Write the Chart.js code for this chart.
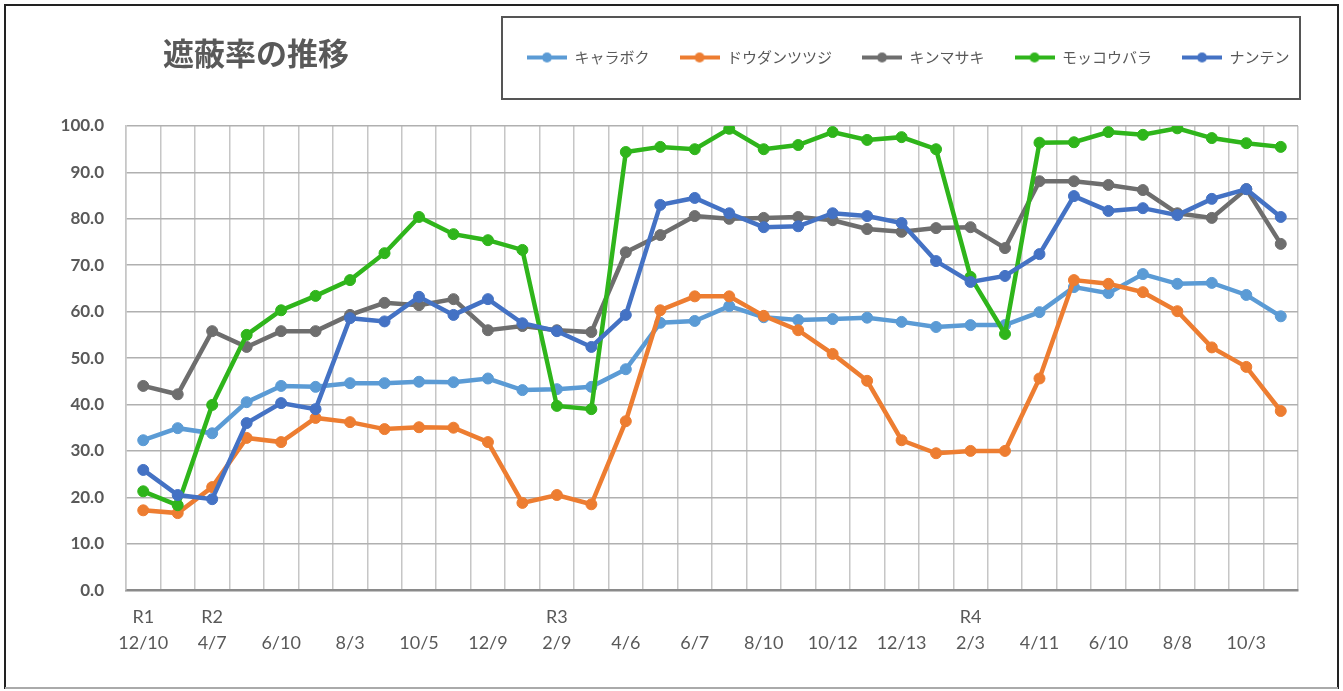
<!DOCTYPE html>
<html>
<head>
<meta charset="utf-8">
<script src="https://cdn.jsdelivr.net/npm/chart.js@4/dist/chart.umd.min.js"></script>
<style>
	html, body { margin: 0; padding: 0; background: #fff; }
	canvas { display: block; }
</style>
</head>
<body>
<canvas id="chart" width="1343" height="691"></canvas>
<script>
	// Tick labels: era row and date row, one slot per survey
	const eraLabels  = ['R1', '', 'R2', '', '', '', '', '', '', '', '', '', 'R3', '', '', '', '', '',
	                    '', '', '', '', '', '', 'R4', '', '', '', '', '', '', '', '', ''];
	const dateLabels = ['12/10', '', '4/7', '', '6/10', '', '8/3', '', '10/5', '', '12/9', '', '2/9', '',
	                    '4/6', '', '6/7', '', '8/10', '', '10/12', '', '12/13', '', '2/3', '', '4/11', '',
	                    '6/10', '', '8/8', '', '10/3', ''];

	const seriesNames = ['キャラボク', 'ドウダンツツジ', 'キンマサキ', 'モッコウバラ', 'ナンテン'];

	const kyaraboku = [32.3, 34.9, 33.8, 40.5, 44.0, 43.8, 44.6, 44.6, 44.9, 44.8, 45.6, 43.1, 43.3, 43.8, 47.6, 57.6, 58.0,
	                   61.2, 58.8, 58.2, 58.4, 58.7, 57.8, 56.7, 57.1, 57.1, 59.9, 65.3, 64.0, 68.1, 66.0, 66.2, 63.6, 59.0];
	const dodan     = [17.2, 16.6, 22.2, 32.8, 31.9, 37.1, 36.2, 34.7, 35.1, 35.0, 31.9, 18.8, 20.5, 18.5, 36.4, 60.3, 63.3,
	                   63.3, 59.1, 56.0, 50.9, 45.1, 32.3, 29.5, 30.0, 30.0, 45.6, 66.8, 66.0, 64.2, 60.1, 52.3, 48.1, 38.6];
	const kinmasaki = [44.0, 42.2, 55.8, 52.4, 55.8, 55.8, 59.3, 61.9, 61.4, 62.7, 56.0, 56.9, 56.0, 55.6, 72.8, 76.5, 80.6,
	                   80.0, 80.2, 80.4, 79.7, 77.8, 77.2, 78.0, 78.2, 73.7, 88.1, 88.1, 87.3, 86.2, 81.2, 80.2, 86.4, 74.6];
	const mokkou    = [21.3, 18.3, 39.9, 55.0, 60.3, 63.4, 66.8, 72.6, 80.4, 76.7, 75.4, 73.3, 39.7, 39.0, 94.4, 95.5, 95.0,
	                   99.4, 95.0, 95.9, 98.7, 97.0, 97.6, 95.0, 67.5, 55.2, 96.4, 96.5, 98.7, 98.1, 99.5, 97.4, 96.3, 95.5];
	const nanten    = [25.9, 20.5, 19.6, 36.0, 40.3, 39.0, 58.6, 57.9, 63.2, 59.3, 62.7, 57.5, 55.8, 52.4, 59.3, 83.0, 84.5,
	                   81.2, 78.2, 78.4, 81.2, 80.6, 79.1, 70.9, 66.4, 67.7, 72.4, 84.9, 81.7, 82.3, 80.8, 84.3, 86.4, 80.4];

	const seriesData   = [kyaraboku, dodan, kinmasaki, mokkou, nanten];
	const seriesColors = ['#5b9bd5', '#ed7d31', '#6e6e6e', '#2fb51b', '#4472c4'];

	const TITLE     = '遮蔽率の推移';
	const TEXT      = '#595959';
	const PAD_TOP   = 20;
	const PLOT_TOP  = 126;
	const LEGEND_X  = 527;

	// small line + dot icon for the legend
	function legendIcon(color) {
		const c = document.createElement('canvas');
		c.width = 40; c.height = 12;
		const g = c.getContext('2d');
		g.strokeStyle = color; g.lineWidth = 4;
		g.beginPath(); g.moveTo(0, 6); g.lineTo(40, 6); g.stroke();
		g.fillStyle = color;
		g.beginPath(); g.arc(20, 6, 5, 0, Math.PI * 2); g.fill();
		return c;
	}
	const icons = seriesColors.map(legendIcon);

	// frame, title and legend box
	const decor = {
		id: 'decor',
		beforeInit(chart) {
			const lg = chart.legend;
			if (!lg) return;
			const fit = lg.fit;
			lg.fit = function () { fit.call(this); this.height = PLOT_TOP - PAD_TOP; };
		},
		afterLayout(chart) {
			const lg = chart.legend;
			if (!lg || !lg.lineWidths) return;
			lg.right = 1336;
			lg.width = lg.right - lg.left;
			lg.lineWidths[0] = lg.right - LEGEND_X;
		},
		afterDraw(chart) {
			const ctx = chart.ctx;
			ctx.save();
			ctx.lineWidth = 2;
			ctx.strokeStyle = '#222';
			ctx.beginPath();
			ctx.moveTo(5, 689); ctx.lineTo(5, 5); ctx.lineTo(1338, 5); ctx.lineTo(1338, 689);
			ctx.stroke();
			ctx.strokeStyle = '#aaa';
			ctx.beginPath(); ctx.moveTo(5, 688); ctx.lineTo(1338, 688); ctx.stroke();

			ctx.strokeStyle = '#555';
			ctx.lineWidth = 2;
			ctx.strokeRect(502, 17, 798, 82);

			ctx.fillStyle = TEXT;
			ctx.font = 'bold 31px "Noto Sans CJK JP"';
			ctx.textAlign = 'left';
			ctx.textBaseline = 'middle';
			ctx.fillText(TITLE, 163, 53);
			ctx.restore();
		}
	};

	const datasets = seriesNames.map((name, i) => ({
		label: name,
		data: seriesData[i],
		borderColor: seriesColors[i],
		backgroundColor: seriesColors[i],
		pointBackgroundColor: seriesColors[i],
		pointBorderColor: seriesColors[i],
		borderWidth: 4.5,
		pointRadius: 5.5,
		pointBorderWidth: 1,
		tension: 0,
		order: seriesNames.length - i
	}));

	new Chart(document.getElementById('chart'), {
		type: 'line',
		data: {
			labels: dateLabels.map((d, i) => [eraLabels[i], d]),
			datasets
		},
		options: {
			responsive: false,
			animation: false,
			layout: { padding: { top: PAD_TOP, left: 46, right: 45, bottom: 21 } },
			plugins: {
				title: { display: false },
				tooltip: { enabled: false },
				legend: {
					position: 'top',
					align: 'end',
					labels: {
						usePointStyle: true,
						pointStyleWidth: 40,
						padding: 30,
						color: TEXT,
						font: { family: '"Noto Sans CJK JP"', size: 15 },
						generateLabels: () => seriesNames.map((name, i) => ({
							text: name,
							pointStyle: icons[i],
							fillStyle: seriesColors[i],
							strokeStyle: seriesColors[i],
							lineWidth: 0,
							fontColor: TEXT,
							hidden: false,
							datasetIndex: i
						}))
					}
				}
			},
			scales: {
				x: {
					type: 'category',
					offset: true,
					grid: { offset: true, color: '#c6c6c6', lineWidth: 1.5, drawTicks: false },
					border: { color: '#8a8a8a', width: 2.5 },
					ticks: {
						autoSkip: false,
						maxRotation: 0,
						padding: 14,
						color: TEXT,
						font: { family: 'Lato', size: 18, lineHeight: 1.44 }
					}
				},
				y: {
					min: 0,
					max: 100,
					afterFit: s => { s.width = 80; },
					grid: { color: '#b0b0b0', lineWidth: 1.5, drawTicks: false },
					border: { color: '#c6c6c6', width: 1.5 },
					ticks: {
						stepSize: 10,
						padding: 22,
						color: TEXT,
						font: { family: 'Lato', size: 17, weight: 'bold' },
						callback: v => v.toFixed(1)
					}
				}
			}
		},
		plugins: [decor]
	});
</script>
</body>
</html>
